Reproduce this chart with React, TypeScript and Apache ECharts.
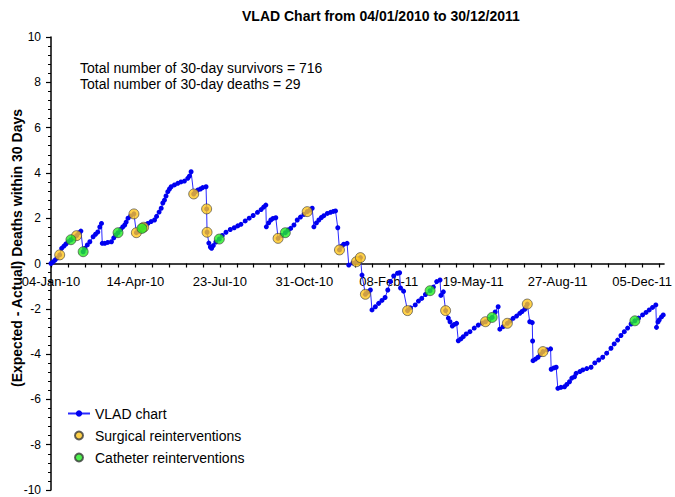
import React, { useEffect, useRef } from "react";
import * as echarts from "echarts";

const chartTitle = "VLAD Chart from 04/01/2010 to 30/12/2011";
const yAxisTitle = "(Expected - Actual) Deaths within 30 Days";
const summaryLines = [
  "Total number of 30-day survivors = 716",
  "Total number of 30-day deaths = 29",
];
const xTickLabels = [
  "04-Jan-10",
  "14-Apr-10",
  "23-Jul-10",
  "31-Oct-10",
  "08-Feb-11",
  "19-May-11",
  "27-Aug-11",
  "05-Dec-11",
];
const seriesNames = ["VLAD chart", "Surgical reinterventions", "Catheter reinterventions"];

// [days since 04-Jan-2010, cumulative (expected - actual) deaths]
const vladPoints: [number, number][] = [
  [0, 0], [2.4, 0.07], [4.7, 0.15], [7.1, 0.24], [10.3, 0.38], [12.6, 0.67], [15.3, 0.77], [17.7, 0.86],
  [20.4, 0.96], [23.6, 1.05], [26.5, 1.13], [30.3, 1.23], [33, 1.35], [35.4, 1.43],
  [38.1, 0.52], [40.1, 0.67], [43, 0.82], [46, 0.96], [49.9, 1.18], [52.7, 1.29], [55.4, 1.39], [57.8, 1.61], [59.8, 1.77],
  [60.7, 0.89], [63.7, 0.89], [67.2, 0.93], [71.6, 0.96], [74.3, 1.13], [76.7, 1.26], [79.4, 1.36], [82.5, 1.5],
  [84.9, 1.61], [87.3, 1.7], [89, 1.83], [91.2, 2.0], [94.3, 2.1], [98.2, 2.19],
  [101.1, 1.36], [103.8, 1.43], [107.7, 1.55], [109.7, 1.6], [112, 1.7], [114.7, 1.77], [118.5, 1.85], [122.6, 1.92],
  [125, 2.08], [128, 2.27], [130.5, 2.44], [132.4, 2.67], [134.4, 2.8], [136.2, 2.98], [138.3, 3.17], [140.3, 3.29],
  [142.3, 3.39], [146.2, 3.47], [150.1, 3.54], [153.9, 3.6], [158, 3.64], [161.9, 3.76], [163.9, 3.86], [165.9, 4.05],
  [169, 3.07], [171, 3.16], [173.7, 3.24], [176.9, 3.29], [179.6, 3.35], [183.6, 3.39],
  [184.3, 2.41], [184.8, 1.38], [186.9, 0.9], [188.7, 0.73], [190.2, 0.67], [192.2, 0.79], [195.2, 0.95], [199.3, 1.08],
  [202.8, 1.24], [207.2, 1.38], [212.3, 1.5], [217, 1.58], [221.1, 1.66], [224.9, 1.73], [230, 1.88], [234.7, 2.0],
  [239.4, 2.12], [244.5, 2.26], [248.8, 2.38], [251.8, 2.49], [254.4, 2.58],
  [255, 1.62], [257.7, 1.79], [260.3, 1.92], [262.9, 1.99], [266.2, 2.02],
  [268.9, 1.11], [273, 1.24], [277.5, 1.36], [280.7, 1.48], [283.8, 1.55], [287.7, 1.7], [291.6, 1.92], [295.4, 2.05],
  [299.5, 2.17], [303.4, 2.29], [306.6, 2.36], [309.3, 2.44],
  [311.3, 1.62], [314.3, 1.79], [317.2, 1.92], [320.2, 2.03], [323.1, 2.11], [327.2, 2.21], [331, 2.26], [334.3, 2.3], [336.9, 2.32],
  [339.6, 1.58], [341.6, 0.6], [344.3, 0.77], [346.7, 0.85], [350.6, 0.89],
  [352.6, -0.07], [357.3, 0.02], [361.7, 0.08], [366.4, 0.26],
  [368.3, -0.51], [372.3, -1.36], [375, -1.26], [378.2, -1.17],
  [380.1, -2.05], [384.1, -1.91], [388, -1.76], [391.9, -1.63], [395.6, -1.5], [398.8, -1.17], [402, -0.8],
  [405.8, -0.55], [410.3, -0.43], [412.8, -0.41],
  [413.9, -1.08], [417.5, -1.22],
  [422.2, -2.08], [425.7, -1.96], [431.3, -1.83], [435.1, -1.66], [439, -1.54], [443.4, -1.37], [448.9, -1.2],
  [452.8, -1.04], [456.7, -0.8], [460.7, -0.73],
  [461.7, -1.41], [464.6, -1.25],
  [467.3, -2.08], [470.5, -2.41], [472.5, -2.57], [475.2, -2.76], [477.6, -2.69], [480.3, -2.64],
  [482.3, -3.41], [485.3, -3.33], [488.2, -3.23], [491.7, -3.11], [496.1, -3.01], [501.2, -2.85], [505.9, -2.72],
  [510.6, -2.63], [514.5, -2.57], [518.9, -2.47], [522.4, -2.38], [526, -2.14], [529.5, -1.91],
  [531.5, -2.9], [535.4, -2.79], [540.4, -2.64], [543.6, -2.54], [547.2, -2.42], [551.3, -2.32], [555.1, -2.2],
  [557.8, -2.12], [561, -2.02], [562.5, -1.92], [564, -1.79],
  [566.9, -2.57], [569.9, -2.61], [570.3, -3.42], [570.8, -4.29], [573.7, -4.22], [576.7, -4.14], [579.6, -4.02],
  [582.5, -3.89], [587.3, -3.81], [591.6, -3.77],
  [592.3, -4.67], [595.5, -4.61], [598.2, -4.58],
  [600.2, -5.51], [603.8, -5.47], [608.1, -5.44], [610.8, -5.34], [614, -5.22], [616.7, -5.06], [619.9, -5.0],
  [621.8, -4.85], [626.2, -4.77], [629.7, -4.7], [634.4, -4.64], [639.5, -4.58], [643.9, -4.39], [648.6, -4.26],
  [653.3, -4.14], [658, -3.96], [663.1, -3.74], [666.9, -3.55], [671, -3.38], [674.9, -3.18], [678.9, -3.01],
  [682.8, -2.85], [686.9, -2.67], [691.4, -2.53], [695.8, -2.41], [700.5, -2.27], [704.6, -2.16], [708.4, -2.05],
  [712.3, -1.94], [716.2, -1.83],
  [717, -2.82], [718.8, -2.58], [720.2, -2.49], [722.9, -2.36], [725, -2.27],
];

const surgicalPoints: [number, number][] = [
  [10.3, 0.38], [30.3, 1.23], [98.2, 2.19], [101.1, 1.36], [109.7, 1.6], [169, 3.07], [184.3, 2.41], [184.8, 1.38],
  [268.9, 1.11], [303.4, 2.29], [341.6, 0.6], [361.7, 0.08], [366.4, 0.26], [372.3, -1.36], [422.2, -2.08],
  [467.3, -2.08], [514.5, -2.57], [540.4, -2.64], [564, -1.79], [582.5, -3.89],
];

const catheterPoints: [number, number][] = [
  [23.6, 1.05], [38.1, 0.52], [79.4, 1.36], [107.7, 1.55], [199.3, 1.08], [277.5, 1.36], [448.9, -1.2],
  [522.4, -2.38], [691.4, -2.53],
];

const FONT = "'Liberation Sans', Arial, Helvetica, sans-serif";

const GRID_TOP = 37;
const GRID_HEIGHT = 453;
const Y_MIN = -10;
const Y_MAX = 10;

export default function App() {
  const ref = useRef<HTMLDivElement>(null);

  useEffect(() => {
    if (!ref.current) return;
    const chart = echarts.init(ref.current, undefined, { renderer: "svg" });
    // shift the bottom x axis up so that it crosses the y axis at zero
    const zeroShift = -(GRID_HEIGHT * (0 - Y_MIN)) / (Y_MAX - Y_MIN);
    chart.setOption({
      animation: false,
      backgroundColor: "#ffffff",
      textStyle: { fontFamily: FONT, color: "#000" },
      title: {
        text: chartTitle,
        left: 237,
        top: 4,
        textStyle: { fontFamily: FONT, fontSize: 14, fontWeight: "bold", color: "#000" },
      },
      grid: { left: 51, right: 8, top: GRID_TOP, height: GRID_HEIGHT, containLabel: false },
      legend: {
        orient: "vertical",
        left: 62,
        top: 401,
        itemGap: 7,
        itemWidth: 22,
        itemHeight: 8,
        textStyle: { fontFamily: FONT, fontSize: 14, color: "#000", lineHeight: 15 },
        data: seriesNames,
      },
      xAxis: {
        type: "value",
        position: "bottom",
        min: 0,
        max: 726,
        interval: 20,
        offset: zeroShift,
        axisLine: { show: true, onZero: false, lineStyle: { color: "#000", width: 1.5 } },
        axisTick: { show: true, length: 4, lineStyle: { color: "#000", width: 1.2 } },
        splitLine: { show: false },
        axisLabel: {
          show: true,
          color: "#000",
          fontFamily: FONT,
          fontSize: 13,
          margin: 11,
          showMinLabel: true,
          showMaxLabel: false,
          hideOverlap: false,
          formatter: (v: number) => (Math.round(v) % 100 === 0 ? xTickLabels[Math.round(v) / 100] ?? "" : ""),
        },
      },
      yAxis: {
        type: "value",
        min: Y_MIN,
        max: Y_MAX,
        interval: 2,
        axisLine: { show: true, onZero: false, lineStyle: { color: "#000", width: 1.5 } },
        axisTick: { show: true, length: 5, lineStyle: { color: "#000", width: 1.2 } },
        minorTick: { show: true, splitNumber: 5, length: 3, lineStyle: { color: "#000", width: 1 } },
        splitLine: { show: false },
        minorSplitLine: { show: false },
        axisLabel: { color: "#000", fontFamily: FONT, fontSize: 12, margin: 10 },
      },
      graphic: [
        {
          type: "text",
          x: 17,
          y: 248,
          rotation: Math.PI / 2,
          style: {
            text: yAxisTitle,
            fontFamily: FONT,
            fontSize: 14,
            fontWeight: "bold",
            fill: "#000",
            align: "center",
            verticalAlign: "middle",
          },
        },
        {
          type: "text",
          left: 80,
          top: 60,
          style: {
            text: summaryLines.join("\n"),
            fontFamily: FONT,
            fontSize: 14,
            lineHeight: 16,
            fill: "#000",
          },
        },
      ],
      series: [
        {
          name: seriesNames[0],
          type: "line",
          data: vladPoints,
          symbol: "circle",
          symbolSize: 5,
          showSymbol: true,
          itemStyle: { color: "#0000f0" },
          lineStyle: { color: "#2a2aff", width: 1 },
          z: 2,
        },
        {
          name: seriesNames[1],
          type: "scatter",
          data: surgicalPoints,
          symbol: "circle",
          symbolSize: 10,
          itemStyle: { color: "#ffc51c", borderColor: "#3a3a3a", borderWidth: 0.8 },
          z: 3,
        },
        {
          name: seriesNames[2],
          type: "scatter",
          data: catheterPoints,
          symbol: "circle",
          symbolSize: 10,
          itemStyle: { color: "#22ee22", borderColor: "#3a3a3a", borderWidth: 0.8 },
          z: 4,
        },
      ],
    });
    return () => chart.dispose();
  }, []);

  return (
    <div style={{ position: "absolute", left: 0, top: 0 }}>
      <div ref={ref} style={{ width: 675, height: 497 }} />
    </div>
  );
}
